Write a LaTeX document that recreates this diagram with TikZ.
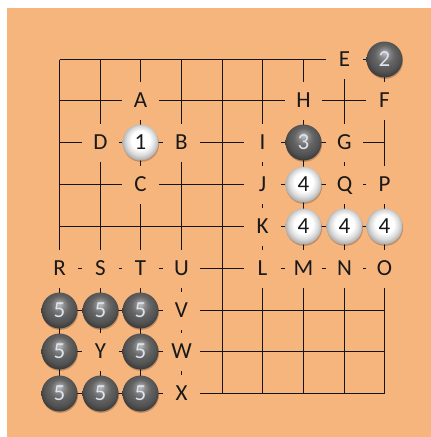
\documentclass[tikz,border=0pt]{standalone}
\usepackage{fontspec}
\setmainfont{Carlito}
\definecolor{board}{HTML}{F7B57E}
\definecolor{ln}{HTML}{151515}
\definecolor{bdigit}{HTML}{DCE3EF}
\pgfdeclareradialshading{bstone}{\pgfpoint{0bp}{10bp}}{color(0bp)=(black!22); color(6bp)=(black!45); color(13bp)=(black!60); color(22bp)=(black!68); color(29bp)=(black!80); color(40bp)=(black!88)}
\pgfdeclareradialshading{wstone}{\pgfpoint{0bp}{5bp}}{color(0bp)=(white); color(13bp)=(white); color(20bp)=(black!14); color(27bp)=(black!35); color(32bp)=(black!48); color(40bp)=(black!55)}
\tikzset{
  gridline/.style={draw=ln, line width=1.1pt},
  lab/.style={fill=board, minimum width=37pt, minimum height=38pt, inner sep=0pt,
    text height=14.5pt, text depth=0pt, font=\fontsize{23}{23}\selectfont, text=black!90},
  stone/.style={circle, minimum size=36pt, inner sep=0pt, text height=14.5pt, text depth=0pt,
    font=\fontsize{23}{23}\selectfont,
    preaction={fill=black, opacity=0.22, transform canvas={shift={(0.6pt,-1.4pt)}}}},
  wst/.style={stone, shading=wstone, text=black!90},
  bst/.style={stone, shading=bstone, text=bdigit}
}
\begin{document}
\begin{tikzpicture}[x=1pt, y=-1pt]
\useasboundingbox (0,0) rectangle (431,437);
\fill[board] (7,8) rectangle (431,437);
% intersection points
\foreach \xx [count=\i from 0] in {59.5,100.5,140.5,181.5,222.5,262.5,303.5,344.5,384.5} {
  \foreach \yy [count=\j from 0] in {59.5,100.5,142.5,184.5,226.5,268.5,310.5,351.5,393.5} {
    \coordinate (p\i-\j) at (\xx,\yy);
  }
}
% grid
\foreach \i in {0,...,8} {
  \draw[gridline] (p\i-0) -- (p\i-8);
  \draw[gridline] (p0-\i) -- (p8-\i);
}
% labels
\node[lab] (E) at (p7-0) {E};
\node[lab] (A) at (p2-1) {A};
\node[lab] (H) at (p6-1) {H};
\node[lab] (F) at (p8-1) {F};
\node[lab] (D) at (p1-2) {D};
\node[lab] (B) at (p3-2) {B};
\node[lab] (I) at (p5-2) {I};
\node[lab] (G) at (p7-2) {G};
\node[lab] (C) at (p2-3) {C};
\node[lab] (J) at (p5-3) {J};
\node[lab] (Q) at (p7-3) {Q};
\node[lab] (P) at (p8-3) {P};
\node[lab] (K) at (p5-4) {K};
\node[lab] (R) at (p0-5) {R};
\node[lab] (S) at (p1-5) {S};
\node[lab] (T) at (p2-5) {T};
\node[lab] (U) at (p3-5) {U};
\node[lab] (L) at (p5-5) {L};
\node[lab] (M) at (p6-5) {M};
\node[lab] (N) at (p7-5) {N};
\node[lab] (O) at (p8-5) {O};
\node[lab] (V) at (p3-6) {V};
\node[lab] (Y) at (p1-7) {Y};
\node[lab] (W) at (p3-7) {W};
\node[lab] (X) at (p3-8) {X};
% stones
\node[wst] (s1) at (p2-2) {1};
\node[bst] (s2) at (p8-0) {2};
\node[bst] (s3) at (p6-2) {3};
\node[wst] (s4a) at (p6-3) {4};
\node[wst] (s4b) at (p6-4) {4};
\node[wst] (s4c) at (p7-4) {4};
\node[wst] (s4d) at (p8-4) {4};
\node[bst] (s5a) at (p0-6) {5};
\node[bst] (s5b) at (p1-6) {5};
\node[bst] (s5c) at (p2-6) {5};
\node[bst] (s5d) at (p0-7) {5};
\node[bst] (s5e) at (p2-7) {5};
\node[bst] (s5f) at (p0-8) {5};
\node[bst] (s5g) at (p1-8) {5};
\node[bst] (s5h) at (p2-8) {5};
\end{tikzpicture}
\end{document}
